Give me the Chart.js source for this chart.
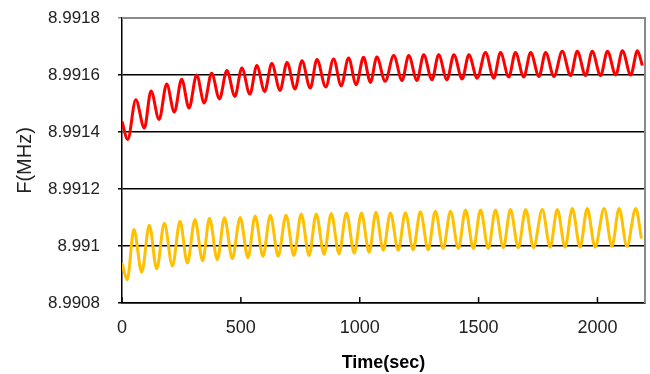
<!DOCTYPE html>
<html>
<head>
<meta charset="utf-8">
<script src="https://cdn.jsdelivr.net/npm/chart.js@4.4.1/dist/chart.umd.min.js"></script>
<style>
  html, body { margin: 0; padding: 0; background: #fff; }
</style>
</head>
<body>
<canvas id="chart" width="650" height="374"></canvas>
<script>
// peaks and troughs, time in sec
const redTime = [0, 24, 58, 94, 122, 156, 188, 220, 251, 282, 314, 346, 377, 410, 441, 475, 504, 538,
  567, 600, 630, 665, 694, 728, 757, 792, 820, 857, 890, 922, 953, 985, 1016, 1045, 1072, 1107,
  1143, 1178, 1206, 1241, 1269, 1304, 1332, 1367, 1396, 1431, 1459, 1494, 1529, 1564, 1592, 1627,
  1655, 1690, 1719, 1754, 1782, 1817, 1852, 1887, 1915, 1950, 1978, 2013, 2042, 2077, 2105, 2140,
  2168, 2189];
const redFreq = [8.991437, 8.991374, 8.991513, 8.991414, 8.991544, 8.991444, 8.991568, 8.991470,
  8.991585, 8.991484, 8.991600, 8.991502, 8.991606, 8.991516, 8.991616, 8.991525, 8.991625, 8.991533,
  8.991633, 8.991542, 8.991640, 8.991546, 8.991644, 8.991551, 8.991650, 8.991554, 8.991654, 8.991558,
  8.991656, 8.991562, 8.991660, 8.991566, 8.991662, 8.991574, 8.991663, 8.991578, 8.991668, 8.991581,
  8.991668, 8.991581, 8.991671, 8.991583, 8.991671, 8.991583, 8.991671, 8.991586, 8.991671, 8.991589,
  8.991679, 8.991589, 8.991679, 8.991593, 8.991679, 8.991593, 8.991679, 8.991595, 8.991679, 8.991595,
  8.991683, 8.991598, 8.991683, 8.991598, 8.991683, 8.991598, 8.991683, 8.991600, 8.991685, 8.991600,
  8.991685, 8.991633];

const orangeTime = [0, 22, 50, 83, 115, 146, 178, 212, 244, 275, 307, 339, 368, 401, 431, 464, 497, 530,
  560, 593, 624, 657, 690, 723, 754, 787, 817, 850, 880, 913, 944, 977, 1007, 1040, 1068, 1099,
  1129, 1162, 1192, 1225, 1255, 1288, 1318, 1351, 1382, 1415, 1445, 1478, 1508, 1541, 1571, 1604,
  1634, 1667, 1698, 1731, 1768, 1801, 1831, 1864, 1894, 1927, 1957, 1990, 2028, 2061, 2091, 2124,
  2161, 2185];
const orangeFreq = [8.990940, 8.990882, 8.991058, 8.990908, 8.991073, 8.990920, 8.991080, 8.990930,
  8.991087, 8.990940, 8.991093, 8.990948, 8.991097, 8.990952, 8.991099, 8.990956, 8.991100, 8.990959,
  8.991105, 8.990964, 8.991108, 8.990964, 8.991108, 8.990967, 8.991112, 8.990967, 8.991112, 8.990971,
  8.991114, 8.990973, 8.991116, 8.990975, 8.991116, 8.990978, 8.991118, 8.990985, 8.991116, 8.990985,
  8.991117, 8.990987, 8.991120, 8.990987, 8.991122, 8.990991, 8.991122, 8.990991, 8.991126, 8.990991,
  8.991126, 8.990991, 8.991126, 8.990994, 8.991128, 8.990994, 8.991128, 8.990994, 8.991128, 8.990996,
  8.991128, 8.990996, 8.991132, 8.990996, 8.991132, 8.990996, 8.991132, 8.990999, 8.991132, 8.990999,
  8.991132, 8.991026];

const xTicks = [0, 500, 1000, 1500, 2000];
const yTicks = [8.9908, 8.991, 8.9912, 8.9914, 8.9916, 8.9918];

const toPoints = (xs, ys) => xs.map((x, i) => ({ x: x, y: ys[i] }));

// gray frame on top/right and the short inward ticks on the time axis
const frameLines = {
  id: 'frameLines',
  afterDatasetsDraw(chart) {
    const { ctx, chartArea: a, scales } = chart;
    ctx.save();
    ctx.strokeStyle = '#000';
    ctx.lineWidth = 1.5;
    xTicks.forEach(v => {
      const px = scales.x.getPixelForValue(v);
      ctx.beginPath();
      ctx.moveTo(px, a.bottom);
      ctx.lineTo(px, a.bottom - 6);
      ctx.stroke();
    });
    ctx.strokeStyle = '#8a8a8a';
    ctx.lineWidth = 2;
    ctx.beginPath();
    ctx.moveTo(a.left, a.top);
    ctx.lineTo(a.right, a.top);
    ctx.lineTo(a.right, a.bottom);
    ctx.stroke();
    ctx.restore();
  }
};

const tickFont = { family: 'Liberation Sans', size: 17 };

new Chart(document.getElementById('chart').getContext('2d'), {
  type: 'line',
  data: {
    datasets: [
      { data: toPoints(redTime, redFreq), borderColor: '#ff0000', borderWidth: 3,
        pointRadius: 0, cubicInterpolationMode: 'monotone' },
      { data: toPoints(orangeTime, orangeFreq), borderColor: '#ffc000', borderWidth: 3,
        pointRadius: 0, cubicInterpolationMode: 'monotone' }
    ]
  },
  options: {
    responsive: false,
    animation: false,
    layout: { padding: { top: 18, right: 5, left: 0, bottom: 0 } },
    plugins: { legend: { display: false }, tooltip: { enabled: false } },
    scales: {
      x: {
        type: 'linear',
        min: 0,
        max: 2200,
        afterBuildTicks: s => { s.ticks = xTicks.map(v => ({ value: v })); },
        afterFit: s => { s.height = 71; },
        grid: { display: true, drawOnChartArea: false, drawTicks: false },
        border: { color: '#000', width: 1.5 },
        ticks: { color: '#222', font: { family: 'Liberation Sans', size: 18 }, padding: 14, maxRotation: 0,
          callback: v => String(v) },
        title: { display: true, text: 'Time(sec)', color: '#000',
          font: { family: 'Liberation Sans', size: 18, weight: 'bold' }, padding: { top: 0, bottom: 0 } }
      },
      y: {
        min: 8.9908,
        max: 8.9918,
        afterBuildTicks: s => { s.ticks = yTicks.map(v => ({ value: v })); },
        afterFit: s => { s.width = 122; s.paddingTop = 0; s.paddingBottom = 0; },
        grid: {
          color: c => (c.tick && c.tick.value === 8.9918 ? '#8a8a8a' : '#000'),
          lineWidth: 1.5,
          tickLength: 4
        },
        border: { color: '#000', width: 1.5 },
        ticks: { color: '#222', font: tickFont, padding: 18,
          callback: v => String(parseFloat(v.toFixed(4))) },
        title: { display: true, text: 'F(MHz)', color: '#222',
          font: { family: 'Liberation Sans', size: 20 }, padding: { top: 13, bottom: 0 } }
      }
    }
  },
  plugins: [frameLines]
});
</script>
</body>
</html>
